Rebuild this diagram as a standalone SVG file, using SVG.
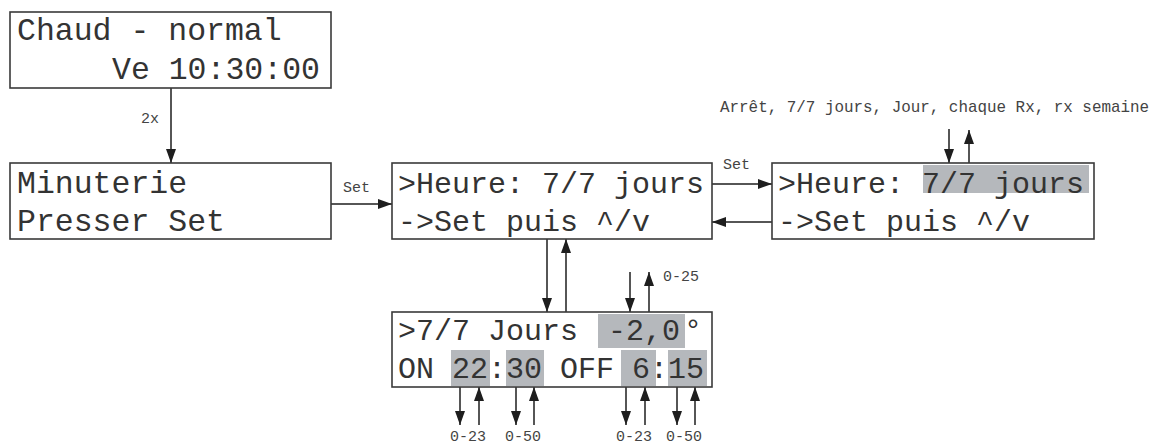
<svg xmlns="http://www.w3.org/2000/svg" width="1154" height="445" viewBox="0 0 1154 445">
<defs>
<style>
.box{fill:#fff;stroke:#3a3a3a;stroke-width:1.6}
.hl{fill:#b5b8bc}
.lcd{font-family:"Liberation Mono","Courier New",monospace;font-size:31.5px;fill:#333}
.lcd2{font-family:"Liberation Mono","Courier New",monospace;font-size:30px;fill:#333}
.lbl{font-family:"Liberation Mono","Courier New",monospace;font-size:15px;fill:#444}
.ln{stroke:#1e1e1e;stroke-width:1.5;fill:none;marker-end:url(#ah)}
</style>
<marker id="ah" markerUnits="userSpaceOnUse" markerWidth="15" markerHeight="11" refX="14" refY="5" orient="auto">
<path d="M0,0 L14,5 L0,10 z" fill="#1e1e1e"/>
</marker>
</defs>
<rect width="1154" height="445" fill="#fff"/>
<g id="connectors">
<line class="ln" x1="171" y1="88" x2="171" y2="163"/>
<text class="lbl" x="141" y="123">2x</text>
<line class="ln" x1="331" y1="204" x2="392" y2="204"/>
<text class="lbl" x="343" y="192">Set</text>
<line class="ln" x1="712" y1="184" x2="772" y2="184"/>
<text class="lbl" x="723" y="169">Set</text>
<line class="ln" x1="772" y1="222" x2="712" y2="222"/>
<line class="ln" x1="949" y1="129" x2="949" y2="163"/>
<line class="ln" x1="969" y1="163" x2="969" y2="130"/>
<text class="lbl" x="720" y="112" style="font-size:15.9px">Arrêt, 7/7 jours, Jour, chaque Rx, rx semaine</text>
<line class="ln" x1="547" y1="239" x2="547" y2="312"/>
<line class="ln" x1="566" y1="312" x2="566" y2="239"/>
<line class="ln" x1="630" y1="272" x2="630" y2="312"/>
<line class="ln" x1="649" y1="312" x2="649" y2="272"/>
<text class="lbl" x="663" y="281">0-25</text>
<line class="ln" x1="460" y1="387" x2="460" y2="425"/>
<line class="ln" x1="479" y1="425" x2="479" y2="387"/>
<line class="ln" x1="516" y1="387" x2="516" y2="425"/>
<line class="ln" x1="534" y1="425" x2="534" y2="387"/>
<line class="ln" x1="626" y1="387" x2="626" y2="425"/>
<line class="ln" x1="645" y1="425" x2="645" y2="387"/>
<line class="ln" x1="677" y1="387" x2="677" y2="425"/>
<line class="ln" x1="695" y1="425" x2="695" y2="387"/>
<text class="lbl" x="450" y="441">0-23</text>
<text class="lbl" x="505" y="441">0-50</text>
<text class="lbl" x="616" y="441">0-23</text>
<text class="lbl" x="666" y="441">0-50</text>
</g>
<g id="n1">
<rect class="box" x="10" y="12" width="321" height="76"/>
<text class="lcd" x="17" y="40">Chaud - normal</text>
<text class="lcd" x="112" y="79">Ve 10:30:00</text>
</g>
<g id="n2">
<rect class="box" x="10" y="163" width="321" height="76"/>
<text class="lcd" x="17" y="193">Minuterie</text>
<text class="lcd" x="17" y="231">Presser Set</text>
</g>
<g id="n3">
<rect class="box" x="392" y="163" width="320" height="76"/>
<text class="lcd2" x="398" y="193">&gt;Heure: 7/7 jours</text>
<text class="lcd2" x="398" y="231">-&gt;Set puis ^/v</text>
</g>
<g id="n4">
<rect class="box" x="772" y="163" width="322" height="76"/>
<rect class="hl" x="923" y="165" width="166" height="28"/>
<text class="lcd2" x="778" y="193">&gt;Heure: 7/7 jours</text>
<text class="lcd2" x="778" y="231">-&gt;Set puis ^/v</text>
</g>
<g id="n5">
<rect class="box" x="392" y="312" width="320" height="75"/>
<rect class="hl" x="598" y="314" width="87" height="34"/>
<rect class="hl" x="451" y="350" width="39" height="36"/>
<rect class="hl" x="506" y="350" width="38" height="36"/>
<rect class="hl" x="621" y="350" width="35" height="36"/>
<rect class="hl" x="668" y="350" width="39" height="36"/>
<text class="lcd2" x="398" y="340">&gt;7/7 Jours <tspan x="608">-2,0</tspan><tspan x="684">°</tspan></text>
<text class="lcd2" x="398" y="378">ON 22:30 OFF 6:15</text>
</g>
</svg>
